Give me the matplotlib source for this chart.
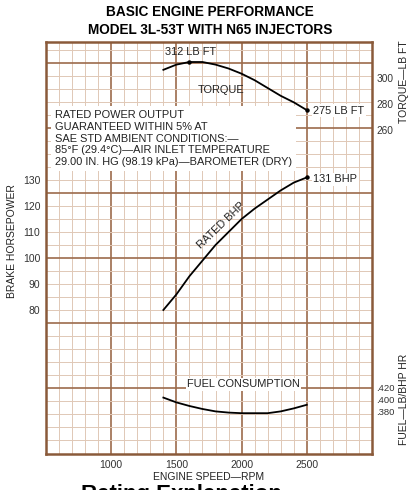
import numpy as np
import matplotlib
matplotlib.use('Agg')
import matplotlib.pyplot as plt

plt.rcParams['font.family'] = ['Liberation Sans', 'DejaVu Sans']

# engine speed (rpm) at which the curves were read
rpm = [1400, 1500, 1600, 1700, 1800, 1900, 2000, 2100, 2200, 2300, 2400, 2500]
torque = [306, 310, 312, 312, 310, 307, 303, 298, 292, 286, 281, 275]
bhp = [80, 86, 93, 99, 105, 110, 115, 119, 122.5, 126, 129, 131]
fuel = [0.404, 0.396, 0.390, 0.385, 0.381, 0.379, 0.378, 0.378, 0.378, 0.381, 0.386, 0.392]

rpm_ticks = [1000, 1500, 2000, 2500]
bhp_ticks = [80, 90, 100, 110, 120, 130]
torque_ticks = [260, 280, 300]
fuel_ticks = [0.380, 0.400, 0.420]
fuel_labels = ['.380', '.400', '.420']

note = ("RATED POWER OUTPUT\n"
        "GUARANTEED WITHIN 5% AT\n"
        "SAE STD AMBIENT CONDITIONS:\u2014\n"
        "85\u00b0F (29.4\u00b0C)\u2014AIR INLET TEMPERATURE\n"
        "29.00 IN. HG (98.19 kPa)\u2014BAROMETER (DRY)")

major_c = '#9c6b4c'
minor_c = '#e0c8b6'
frame_c = '#8a5a3a'
txt_c = '#222222'

fig = plt.figure(figsize=(4.13, 4.90), dpi=100)
ax = fig.add_axes([0.1114, 0.0735, 0.7893, 0.8408])
ax.set_xlim(500, 3000)
ax.set_ylim(24.6, 183.1)

# graph paper
for x in np.arange(600, 3000, 100):
    major = x % 500 == 0
    ax.axvline(x, color=major_c if major else minor_c, lw=1.2 if major else 0.7, zorder=0)
for y in np.arange(30, 183, 5):
    major = y % 25 == 0
    ax.axhline(y, color=major_c if major else minor_c, lw=1.2 if major else 0.7, zorder=0)
for s in ax.spines.values():
    s.set_color(frame_c)
    s.set_linewidth(1.8)

ax.set_xticks(rpm_ticks)
ax.set_yticks(bhp_ticks)
ax.tick_params(length=0, labelsize=7.5, pad=4, colors='#333333')

ax_t = ax.twinx()
ax_t.set_ylim(10.5, 327.4)
ax_t.set_yticks(torque_ticks)
ax_t.tick_params(length=0, labelsize=7.3, pad=3, colors='#333333')
for s in ax_t.spines.values():
    s.set_visible(False)

ax_f = ax.twinx()
ax_f.set_ylim(0.31, 0.9967)
ax_f.set_yticks(fuel_ticks)
ax_f.set_yticklabels(fuel_labels)
ax_f.tick_params(length=0, labelsize=6.8, pad=3, colors='#333333')
for s in ax_f.spines.values():
    s.set_visible(False)

# curves
ax_t.plot(rpm, torque, color='black', lw=1.3)
ax.plot(rpm, bhp, color='black', lw=1.3)
ax_f.plot(rpm, fuel, color='black', lw=1.3)
ax_t.plot([rpm[2], rpm[-1]], [torque[2], torque[-1]], 'o', color='black', ms=2.2)
ax.plot(rpm[-1], bhp[-1], 'o', color='black', ms=2.2)

fs = 7.9
ax_t.text(1610, 320, '312 LB FT', fontsize=fs, ha='center', va='center', color=txt_c)
ax_t.text(1840, 290.5, 'TORQUE', fontsize=fs, ha='center', va='center', color=txt_c)
ax_t.text(2550, 274.5, '275 LB FT', fontsize=fs, ha='left', va='center', color=txt_c,
          bbox=dict(facecolor='white', edgecolor='none', pad=1))
ax.text(2550, 130.2, '131 BHP', fontsize=fs, ha='left', va='center', color=txt_c,
        bbox=dict(facecolor='white', edgecolor='none', pad=1))
ax.text(1840, 112.5, 'RATED BHP', fontsize=fs, ha='center', va='center', rotation=44,
        color=txt_c)
ax_f.text(2015, 0.426, 'FUEL CONSUMPTION', fontsize=fs, ha='center', va='center', color=txt_c,
          bbox=dict(facecolor='white', edgecolor='none', pad=1))
ax.text(569, 156.8, note, fontsize=fs, ha='left', va='top', linespacing=1.2, color=txt_c,
        bbox=dict(facecolor='white', edgecolor='none', pad=3))

fig.text(0.508, 0.975, 'BASIC ENGINE PERFORMANCE', fontsize=9.8, fontweight='bold',
         ha='center', va='center')
fig.text(0.508, 0.939, 'MODEL 3L-53T WITH N65 INJECTORS', fontsize=9.8, fontweight='bold',
         ha='center', va='center')
fig.text(0.506, 0.027, 'ENGINE SPEED\u2014RPM', fontsize=7.5, ha='center', va='center', color=txt_c)
fig.text(0.030, 0.508, 'BRAKE HORSEPOWER', fontsize=7.5, rotation=90, ha='center', va='center',
         color=txt_c)
fig.text(0.979, 0.833, 'TORQUE\u2014LB FT', fontsize=7.5, rotation=90, ha='center', va='center',
         color=txt_c)
fig.text(0.979, 0.184, 'FUEL\u2014LB/BHP HR', fontsize=7.5, rotation=90, ha='center', va='center',
         color=txt_c)
fig.text(0.196, -0.020, 'Rating Explanation', fontsize=16, fontweight='bold',
         ha='left', va='baseline')

fig.savefig('out.png', dpi=100)
